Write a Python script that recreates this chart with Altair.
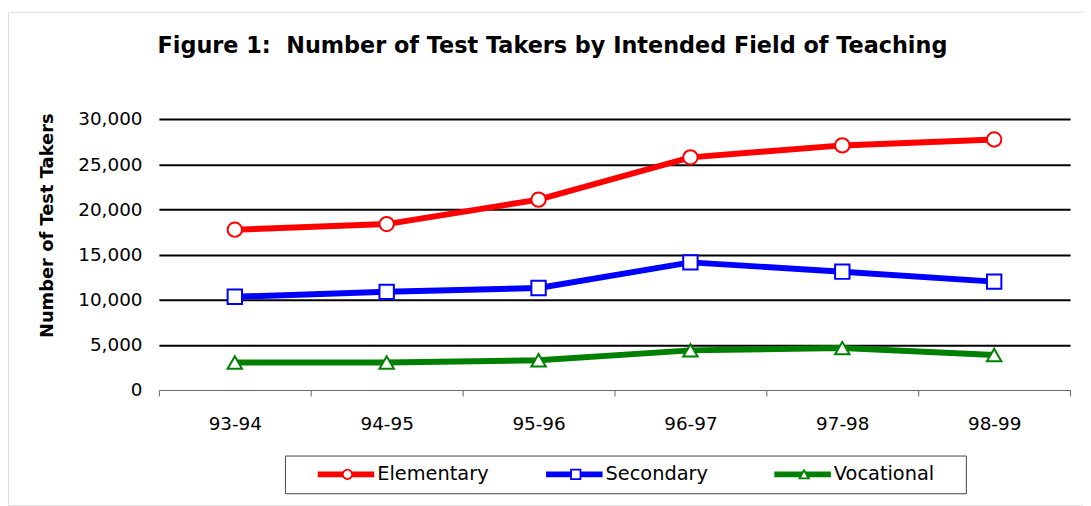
import altair as alt
import pandas as pd

# ---- data ----
years = ["93-94", "94-95", "95-96", "96-97", "97-98", "98-99"]
elementary = [17750, 18370, 21080, 25760, 27080, 27740]
secondary = [10320, 10870, 11300, 14130, 13100, 12000]
vocational = [3050, 3050, 3290, 4390, 4640, 3880]
series_names = ["Elementary", "Secondary", "Vocational"]
series_colors = ["#FF0000", "#0000FF", "#008000"]
series_shapes = ["circle", "square", "triangle-up"]
y_ticks = [0, 5000, 10000, 15000, 20000, 25000, 30000]

rows = []
for name, vals in zip(series_names, [elementary, secondary, vocational]):
    for yr, v in zip(years, vals):
        rows.append({"year": yr, "series": name, "series_m": name, "count": v})
df = pd.DataFrame(rows)

FONT = "DejaVu Sans"
W, H = 1083, 497          # outer frame (view) size
X0, X1 = 152, 1070        # plot extent inside the frame
Y0, Y1 = 381, 108

x = alt.X(
    "year:N", sort=years, title=None,
    scale=alt.Scale(type="band", range=[X0, X1], paddingInner=0, paddingOuter=0),
    axis=alt.Axis(orient="bottom", offset=-(H - Y0), labelAngle=0, labelFont=FONT,
                  labelFontSize=18.5, labelColor="black", labelPadding=19,
                  tickBand="extent", ticks=True, tickSize=6, tickColor="#666666",
                  tickWidth=1, domainColor="#666666", domainWidth=1, grid=False),
)
y = alt.Y(
    "count:Q", title="Number of Test Takers",
    scale=alt.Scale(domain=[0, 30000], range=[Y0, Y1], nice=False),
    axis=alt.Axis(orient="left", offset=-X0, values=y_ticks, format=",d",
                  labelFont=FONT, labelFontSize=18.5, labelColor="black",
                  labelPadding=17, ticks=False, tickSize=0, domain=False, grid=True,
                  gridColor={"condition": {"test": "datum.value === 0", "value": "transparent"},
                             "value": "black"},
                  gridWidth=2, titleFont=FONT, titleFontSize=18, titleFontWeight="bold",
                  titleColor="black", titleAngle=-90, titleX=-112.5, titleY=215,
                  titleAlign="center", titleBaseline="middle"),
)

LINE_PATH = "M-1,0M-0.46,0L1,0"

line_legend = alt.Legend(
    orient="none", legendX=279, legendY=447, direction="horizontal", columns=3,
    gridAlign="all", titleOrient="right", titlePadding=23, titleFont=FONT,
    titleFontSize=19.5, symbolType=LINE_PATH, symbolSize=6084, clipHeight=20,
    symbolStrokeWidth=6, labelFont=FONT, labelFontSize=19.5, labelColor="black",
    labelOffset=0, columnPadding=33, padding=9, strokeColor="#444444",
    fillColor="white", zindex=0,
)
marker_legend = alt.Legend(
    orient="none", legendX=327, legendY=447, direction="horizontal", columns=3,
    gridAlign="all", title=None, symbolSize=90, symbolStrokeWidth=1.8, clipHeight=20,
    symbolFillColor="white", symbolOpacity=1, labelExpr="''", labelOffset=0,
    columnPadding=218, padding=9, zindex=1,
)

lines = alt.Chart(df).mark_line(strokeWidth=6).encode(
    x=x, y=y,
    color=alt.Color("series:N", title="\u00a0", scale=alt.Scale(range=series_colors),
                    legend=line_legend),
)
points = alt.Chart(df).mark_point(filled=True, fill="white", size=210, strokeWidth=2,
                                  opacity=1).encode(
    x=x, y=y,
    stroke=alt.Stroke("series_m:N", scale=alt.Scale(range=series_colors), legend=marker_legend),
    shape=alt.Shape("series_m:N", scale=alt.Scale(range=series_shapes), legend=marker_legend),
)

chart = alt.layer(lines, points).properties(
    width=W, height=H,
    title=alt.Title("Figure 1:\u00a0 Number of Test Takers by Intended Field of Teaching",
                    font=FONT, fontSize=22.5, fontWeight="bold", color="black",
                    anchor="middle", orient="top", offset=-42.5, baseline="alphabetic",
                    dx=7, dy=21.5),
    autosize=alt.AutoSizeParams(type="none"),
    padding={"left": 0, "top": 2, "right": 0, "bottom": 0},
).configure_view(stroke="#444444", strokeWidth=1.5).configure(background="white")

chart.save("out.html", embed_options={"renderer": "svg", "actions": False})
